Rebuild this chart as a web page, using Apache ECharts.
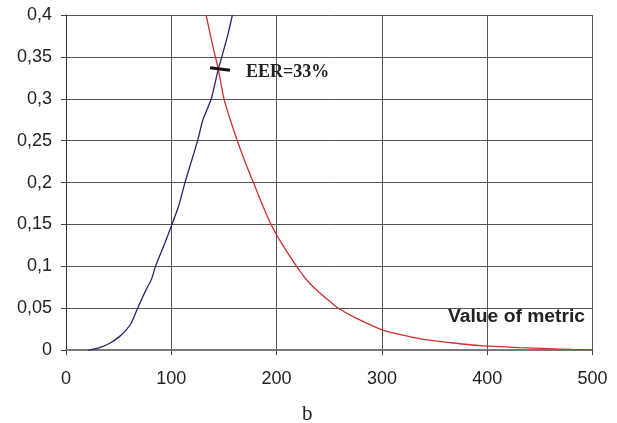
<!DOCTYPE html>
<html>
<head>
<meta charset="utf-8">
<script src="https://cdn.jsdelivr.net/npm/echarts@6/dist/echarts.min.js"></script>
<style>
  html, body { margin: 0; padding: 0; background: #fff; }
  #chart { width: 617px; height: 423px; }
</style>
</head>
<body>
<div id="chart"></div>
<script>
// Error-rate curves against the value of the matching metric
const frrX = [21, 32, 42, 51, 57, 62, 68, 76, 81, 85, 93, 100.6, 107, 113, 119, 125, 130, 138, 144.6, 148, 154, 158];
const frrY = [0, 0.003, 0.0086, 0.0165, 0.024, 0.0325, 0.05, 0.072, 0.084, 0.1, 0.125, 0.15, 0.172, 0.2, 0.225, 0.25, 0.275, 0.3, 0.3355, 0.35, 0.378, 0.4];

const farX = [133, 140, 144.6, 150, 156, 162.7, 170, 178, 186, 194.7, 206, 219, 228.6, 238, 250.7, 258.6, 276, 301, 327, 345, 365, 393, 431, 458, 480, 500];
const farY = [0.4, 0.36, 0.3355, 0.3, 0.275, 0.25, 0.225, 0.2, 0.175, 0.15, 0.125, 0.1, 0.0838, 0.0718, 0.058, 0.05, 0.038, 0.024, 0.016, 0.012, 0.009, 0.0054, 0.003, 0.0018, 0.001, 0.0005];

// Short marker across the crossing point
const eerX = [136.8, 155.7];
const eerY = [0.337, 0.334];
const eerText = 'EER=33%';

const xTicks = [0, 100, 200, 300, 400, 500];
const yTickLabels = ['0', '0,05', '0,1', '0,15', '0,2', '0,25', '0,3', '0,35', '0,4'];

const pairs = (xs, ys) => xs.map((x, i) => [x, ys[i]]);

const chart = echarts.init(document.getElementById('chart'), null, { renderer: 'canvas' });

const axisFont = { fontFamily: 'Liberation Sans, Arial, sans-serif', fontSize: 18, color: '#222' };

chart.setOption({
  animation: false,
  backgroundColor: '#fff',
  grid: { left: 66, right: 24.5, top: 15, bottom: 72.8, containLabel: false },
  xAxis: {
    type: 'value',
    min: xTicks[0],
    max: xTicks[xTicks.length - 1],
    interval: xTicks[1] - xTicks[0],
    axisLine: { show: true, onZero: false, lineStyle: { color: '#7a7a7a', width: 2 } },
    axisTick: { show: true, inside: false, length: 5, lineStyle: { color: '#444', width: 1 } },
    axisLabel: Object.assign({ margin: 20 }, axisFont),
    splitLine: { show: true, lineStyle: { color: '#555', width: 1 } }
  },
  yAxis: {
    type: 'value',
    min: 0,
    max: 0.4,
    interval: 0.05,
    axisLine: { show: true, lineStyle: { color: '#333', width: 1 } },
    axisTick: { show: true, inside: false, length: 5, lineStyle: { color: '#444', width: 1 } },
    axisLabel: Object.assign({
      margin: 14,
      formatter: (v) => yTickLabels[Math.round(v / 0.05)]
    }, axisFont),
    splitLine: { show: true, lineStyle: { color: '#555', width: 1 } }
  },
  series: [
    {
      type: 'line',
      data: pairs(frrX, frrY),
      showSymbol: false,
      smooth: 0.2,
      clip: true,
      lineStyle: { color: '#25256e', width: 1.3 }
    },
    {
      type: 'line',
      data: pairs(farX, farY),
      showSymbol: false,
      smooth: 0.2,
      clip: true,
      lineStyle: { color: '#cf2f2f', width: 1.3 }
    },
    {
      type: 'line',
      data: pairs(eerX, eerY),
      showSymbol: false,
      clip: false,
      lineStyle: { color: '#111', width: 3 },
      endLabel: {
        show: true,
        formatter: eerText,
        distance: 16,
        offset: [0, 2],
        fontFamily: 'Liberation Serif, Times New Roman, serif',
        fontWeight: 'bold',
        fontSize: 18,
        color: '#222'
      }
    }
  ],
  graphic: [
    {
      type: 'text',
      left: 448,
      top: 308,
      scaleX: 1.07,
      originX: 0,
      style: {
        text: 'Value of metric',
        font: 'bold 18px "Liberation Sans", Arial, sans-serif',
        fill: '#222'
      }
    },
    {
      type: 'text',
      left: 302,
      top: 404,
      style: {
        text: 'b',
        font: '21px "Liberation Serif", "Times New Roman", serif',
        fill: '#222'
      }
    }
  ]
});
</script>
</body>
</html>
